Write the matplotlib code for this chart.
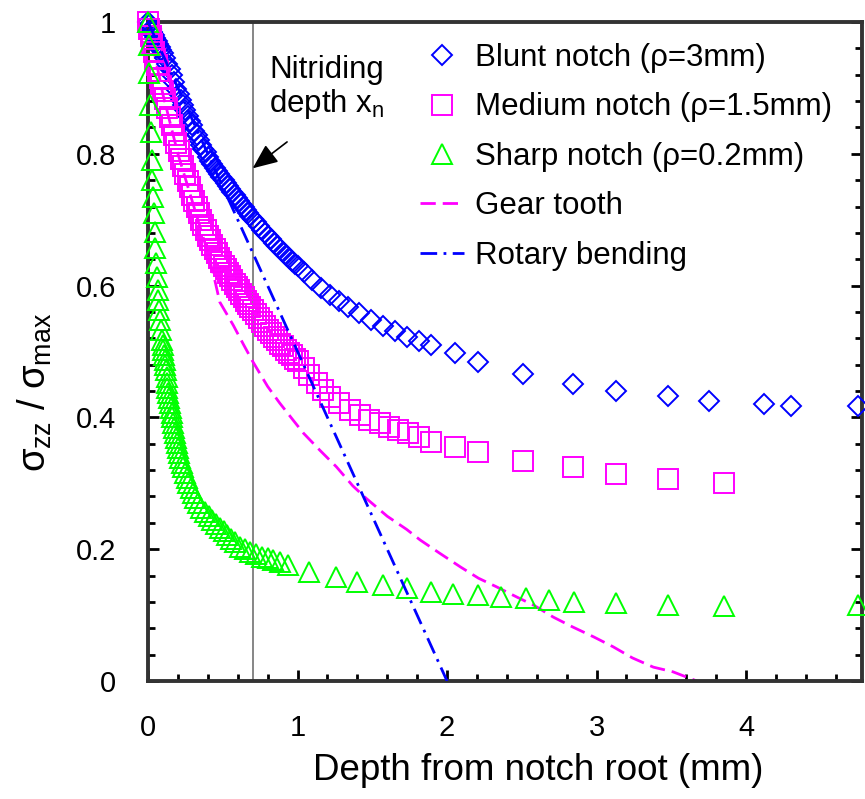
import matplotlib
matplotlib.use("Agg")
import matplotlib.pyplot as plt
from matplotlib.ticker import MultipleLocator

plt.rcParams["font.family"] = ["Liberation Sans", "DejaVu Sans"]
plt.rcParams["mathtext.fontset"] = "custom"
plt.rcParams["mathtext.rm"] = "Liberation Sans"
plt.rcParams["mathtext.it"] = "Liberation Sans"
plt.rcParams["mathtext.bf"] = "Liberation Sans:bold"

# Blunt notch (rho = 3 mm)
blunt_x = [0, 0.01, 0.02, 0.03, 0.04, 0.05, 0.06, 0.07, 0.08, 0.09, 0.1, 0.115, 0.13, 0.145, 0.16,
           0.175, 0.19, 0.205, 0.22, 0.235, 0.25, 0.265, 0.28, 0.295, 0.31, 0.325, 0.34, 0.355,
           0.37, 0.385, 0.4, 0.415, 0.43, 0.445, 0.46, 0.475, 0.49, 0.505, 0.52, 0.535, 0.55,
           0.565, 0.58, 0.595, 0.61, 0.625, 0.64, 0.655, 0.67, 0.685, 0.7, 0.72, 0.74, 0.76, 0.78,
           0.8, 0.82, 0.84, 0.86, 0.88, 0.9, 0.92, 0.94, 0.96, 0.98, 1.0, 1.04, 1.1, 1.16, 1.22,
           1.28, 1.34, 1.41, 1.49, 1.57, 1.65, 1.73, 1.81, 1.89, 2.05, 2.21, 2.51, 2.84, 3.13,
           3.48, 3.75, 4.12, 4.30, 4.75]
blunt_y = [1.0, 0.995, 0.99, 0.985, 0.98, 0.975, 0.971, 0.966, 0.962, 0.957, 0.953, 0.945, 0.936,
           0.928, 0.919, 0.909, 0.899, 0.89, 0.882, 0.874, 0.866, 0.858, 0.85, 0.843, 0.835,
           0.828, 0.821, 0.814, 0.808, 0.802, 0.795, 0.789, 0.784, 0.779, 0.774, 0.769, 0.765,
           0.76, 0.756, 0.751, 0.747, 0.742, 0.738, 0.733, 0.729, 0.724, 0.719, 0.715, 0.71,
           0.706, 0.701, 0.696, 0.69, 0.685, 0.68, 0.675, 0.67, 0.665, 0.66, 0.656, 0.651, 0.646,
           0.642, 0.637, 0.633, 0.629, 0.62, 0.608, 0.597, 0.586, 0.576, 0.567, 0.558, 0.548,
           0.539, 0.531, 0.522, 0.516, 0.51, 0.498, 0.484, 0.466, 0.451, 0.44, 0.432, 0.425,
           0.42, 0.417, 0.417]

# Medium notch (rho = 1.5 mm)
medium_x = [0, 0.01, 0.02, 0.03, 0.04, 0.05, 0.06, 0.07, 0.08, 0.09, 0.1, 0.115, 0.13, 0.145,
            0.16, 0.175, 0.19, 0.205, 0.22, 0.235, 0.25, 0.265, 0.28, 0.295, 0.31, 0.325, 0.34,
            0.355, 0.37, 0.385, 0.4, 0.415, 0.43, 0.445, 0.46, 0.475, 0.49, 0.505, 0.52, 0.535,
            0.55, 0.565, 0.58, 0.595, 0.61, 0.625, 0.64, 0.655, 0.67, 0.685, 0.7, 0.72, 0.74,
            0.76, 0.78, 0.8, 0.82, 0.84, 0.86, 0.88, 0.9, 0.92, 0.94, 0.96, 0.98, 1.0, 1.04, 1.08,
            1.13, 1.17, 1.22, 1.28, 1.35, 1.42, 1.48, 1.55, 1.61, 1.67, 1.74, 1.81, 1.89, 2.05,
            2.21, 2.51, 2.84, 3.13, 3.48, 3.85]
medium_y = [1.0, 0.989, 0.978, 0.966, 0.955, 0.944, 0.934, 0.925, 0.915, 0.906, 0.896, 0.883,
            0.869, 0.856, 0.843, 0.829, 0.816, 0.804, 0.792, 0.781, 0.769, 0.759, 0.749, 0.738,
            0.729, 0.719, 0.71, 0.7, 0.692, 0.684, 0.676, 0.669, 0.662, 0.655, 0.649, 0.642,
            0.636, 0.63, 0.625, 0.619, 0.614, 0.608, 0.603, 0.598, 0.593, 0.588, 0.583, 0.577,
            0.572, 0.567, 0.563, 0.557, 0.551, 0.545, 0.539, 0.533, 0.528, 0.522, 0.517, 0.512,
            0.508, 0.503, 0.498, 0.494, 0.489, 0.485, 0.475, 0.464, 0.452, 0.442, 0.431, 0.422,
            0.411, 0.404, 0.396, 0.391, 0.385, 0.381, 0.376, 0.37, 0.363, 0.355, 0.347, 0.334,
            0.325, 0.314, 0.307, 0.3]

# Sharp notch (rho = 0.2 mm)
sharp_x = [0, 0.005, 0.01, 0.015, 0.02, 0.025, 0.03, 0.035, 0.04, 0.045, 0.05, 0.055, 0.06, 0.065,
           0.07, 0.075, 0.08, 0.087, 0.094, 0.097, 0.1, 0.107, 0.114, 0.117, 0.12, 0.124, 0.127,
           0.13, 0.134, 0.14, 0.147, 0.153, 0.16, 0.163, 0.167, 0.173, 0.18, 0.187, 0.194, 0.2,
           0.207, 0.217, 0.227, 0.237, 0.247, 0.258, 0.27, 0.285, 0.3, 0.317, 0.334, 0.357, 0.38,
           0.405, 0.43, 0.455, 0.48, 0.505, 0.53, 0.555, 0.58, 0.615, 0.65, 0.68, 0.72, 0.76,
           0.8, 0.836, 0.88, 0.936, 1.08, 1.26, 1.4, 1.57, 1.73, 1.89, 2.04, 2.21, 2.36, 2.53,
           2.68, 2.85, 3.13, 3.48, 3.85, 4.75]
sharp_y = [1.0, 0.965, 0.922, 0.874, 0.833, 0.79, 0.76, 0.734, 0.71, 0.681, 0.657, 0.634, 0.613,
           0.593, 0.578, 0.563, 0.548, 0.533, 0.517, 0.51, 0.502, 0.495, 0.487, 0.48, 0.472,
           0.462, 0.452, 0.445, 0.437, 0.43, 0.422, 0.415, 0.407, 0.4, 0.392, 0.384, 0.376, 0.369,
           0.361, 0.354, 0.346, 0.339, 0.331, 0.324, 0.316, 0.308, 0.3, 0.293, 0.285, 0.278,
           0.27, 0.263, 0.256, 0.25, 0.244, 0.238, 0.232, 0.227, 0.222, 0.216, 0.211, 0.203,
           0.2, 0.196, 0.192, 0.188, 0.186, 0.184, 0.18, 0.176, 0.165, 0.158, 0.15, 0.146,
           0.141, 0.135, 0.132, 0.13, 0.127, 0.126, 0.123, 0.12, 0.118, 0.115, 0.114, 0.115]

# Gear tooth curve
gear_x = [0, 0.1, 0.2, 0.3, 0.4, 0.44, 0.48, 0.57, 0.64, 0.7, 0.8, 0.88, 0.97, 1.04, 1.15, 1.26,
          1.37, 1.46, 1.6, 1.73, 1.82, 1.95, 2.09, 2.21, 2.33, 2.47, 2.58, 2.71, 2.84, 2.98,
          3.11, 3.24, 3.38, 3.51, 3.67]
gear_y = [1.0, 0.89, 0.8, 0.725, 0.65, 0.615, 0.575, 0.54, 0.51, 0.485, 0.447, 0.422, 0.396,
          0.376, 0.35, 0.325, 0.296, 0.277, 0.25, 0.23, 0.214, 0.194, 0.173, 0.156, 0.143,
          0.127, 0.115, 0.097, 0.082, 0.067, 0.052, 0.035, 0.021, 0.014, 0.0]

# Rotary bending
rotary_x = [0, 2.0]
rotary_y = [1.0, 0.0]

x_ticks = [0, 1, 2, 3, 4]
y_ticks = [0, 0.2, 0.4, 0.6, 0.8, 1.0]
y_tick_labels = ["0", "0.2", "0.4", "0.6", "0.8", "1"]
nitriding_depth = 0.7

fig = plt.figure(figsize=(8.65, 7.99), dpi=100)
ax = fig.add_axes([148 / 865, 1 - 681 / 799, (862 - 148) / 865, (681 - 22) / 799])

ax.axvline(nitriding_depth, color="#666666", lw=1.1, zorder=1)

mk = dict(linestyle="none", markerfacecolor="none", clip_on=False)
ax.plot(blunt_x, blunt_y, marker="D", ms=10.5, mew=1.4, color="#0000ff",
        label="Blunt notch (\u03c1=3mm)", zorder=3, **mk)
ax.plot(medium_x, medium_y, marker="s", ms=14.5, mew=1.4, color="#ff00ff",
        label="Medium notch (\u03c1=1.5mm)", zorder=3, **mk)
ax.plot(sharp_x, sharp_y, marker="^", ms=14.5, mew=1.4, color="#00ff00",
        label="Sharp notch (\u03c1=0.2mm)", zorder=4, **mk)
ax.plot(gear_x, gear_y, color="#ff00ff", lw=2, dashes=(5.5, 2.5), label="Gear tooth", zorder=2)
ax.plot(rotary_x, rotary_y, color="#0000ff", lw=2, dashes=(6, 2.3, 1, 2.3),
        label="Rotary bending", zorder=5)

ax.set_xlim(0, 4.775)
ax.set_ylim(0, 1)
ax.set_xticks(x_ticks)
ax.set_yticks(y_ticks)
ax.set_yticklabels(y_tick_labels)
ax.xaxis.set_minor_locator(MultipleLocator(0.2))
ax.yaxis.set_minor_locator(MultipleLocator(0.04))
ax.tick_params(which="both", direction="in", top=False, right=True, colors="black", width=2)
ax.tick_params(which="major", length=8, labelsize=21)
ax.tick_params(which="minor", length=5)
ax.tick_params(axis="x", pad=24)
ax.tick_params(axis="y", pad=23)
for side in ["left", "right", "top", "bottom"]:
    ax.spines[side].set_color("#333333")
    ax.spines[side].set_linewidth(2.8)

ax.set_xlabel("Depth from notch root (mm)", fontsize=26.5)
ax.xaxis.set_label_coords(0.546, -0.11)
fig.text(35 / 865, 1 - 392 / 799, r"$\sigma_{zz}$ / $\sigma_{max}$", rotation=90,
         ha="center", va="center", fontsize=27.5)

ax.text(0.812, 0.95, "Nitriding\ndepth x$_\\mathregular{n}$", fontsize=22.5, ha="left", va="top",
        linespacing=1.1)
ax.annotate("", xy=(nitriding_depth, 0.778), xytext=(0.93, 0.818),
            arrowprops=dict(arrowstyle="-|>,head_length=0.7,head_width=0.3", color="black",
                            lw=1.2, mutation_scale=22, shrinkA=0, shrinkB=0))

ax.legend(loc="upper left", bbox_to_anchor=(0.381, 0.968), frameon=False, fontsize=22.5,
          borderpad=0, borderaxespad=0, handlelength=1.4, handletextpad=0.35,
          labelspacing=0.62)

fig.savefig("out.png", dpi=100)
